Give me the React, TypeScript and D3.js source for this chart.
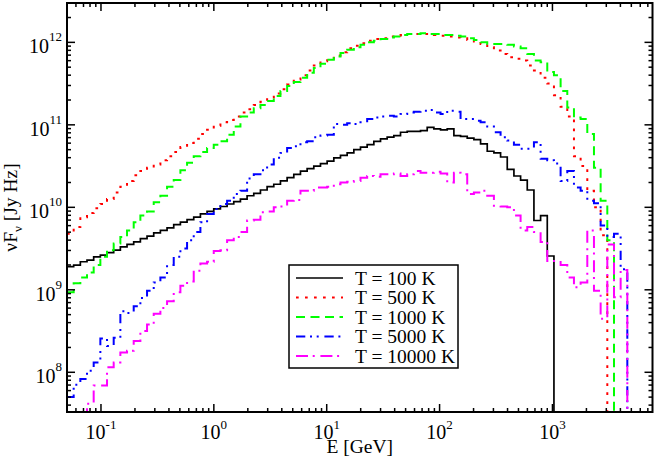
import * as React from 'react';
import * as d3 from 'd3';

const width = 654;
const height = 463;
const margin = { top: 3, right: 1.5, bottom: 51, left: 67 };

const xDomain: [number, number] = [0.05, 7700];
const yDomain: [number, number] = [3.3e7, 3e12];

// histogram bins: lower edge of first bin and bin width in log10(E)
const firstBinEdge = 0.05;
const binDex = 0.0591;

const xTickExps = [-1, 0, 1, 2, 3];
const yTickExps = [8, 9, 10, 11, 12];

const labels = ['T = 100 K', 'T = 500 K', 'T = 1000 K', 'T = 5000 K', 'T = 10000 K'];
const colours = ['#000000', '#ff0000', '#00ff00', '#0000ff', '#ff00ff'];
const dashes = ['', '2.7,6.3', '9,5.5', '9.3,4.7,2,4.7,2,5.7', '12,4.7,2,5.7'];

// log10(nuF_nu) per energy bin, 0 = empty bin
const t100 = [
	9.28, 9.30, 9.34, 9.36, 9.40, 9.42, 9.45, 9.48, 9.52, 9.55,
	9.58, 9.62, 9.65, 9.69, 9.72, 9.75, 9.79, 9.82, 9.85, 9.88,
	9.92, 9.95, 9.98, 10.01, 10.04, 10.07, 10.10, 10.14, 10.17, 10.21,
	10.25, 10.28, 10.32, 10.36, 10.40, 10.44, 10.47, 10.50, 10.53, 10.56,
	10.60, 10.63, 10.66, 10.70, 10.73, 10.76, 10.80, 10.83, 10.85, 10.87,
	10.91, 10.92, 10.92, 10.93, 10.97, 10.95, 10.94, 10.95, 10.87, 10.86,
	10.84, 10.82, 10.77, 10.68, 10.66, 10.61, 10.46, 10.38, 10.33, 10.21,
	9.84, 9.90, 9.41, 0, 0, 0, 0, 0, 0, 0,
	0, 0, 0, 0, 0, 0, 0, 0
];

const t500 = [
	9.68, 9.76, 9.88, 9.93, 9.99, 10.04, 10.10, 10.18, 10.25, 10.32,
	10.39, 10.44, 10.48, 10.52, 10.57, 10.62, 10.67, 10.73, 10.78, 10.83,
	10.89, 10.94, 10.99, 11.03, 11.06, 11.10, 11.15, 11.19, 11.24, 11.28,
	11.33, 11.38, 11.43, 11.49, 11.55, 11.60, 11.66, 11.72, 11.77, 11.80,
	11.84, 11.88, 11.93, 11.96, 11.99, 12.02, 12.04, 12.05, 12.07, 12.08,
	12.09, 12.10, 12.10, 12.10, 12.10, 12.09, 12.08, 12.07, 12.06, 12.05,
	12.03, 12.01, 11.98, 11.94, 11.90, 11.86, 11.82, 11.80, 11.78, 11.72,
	11.66, 11.57, 11.50, 11.36, 11.22, 11.10, 10.62, 10.50, 10.20, 10.00,
	9.66, 0, 0, 0, 0, 0, 0, 0
];

const t1000 = [
	8.97, 9.08, 9.15, 9.21, 9.30, 9.40, 9.48, 9.56, 9.64, 9.72,
	9.82, 9.90, 9.95, 10.06, 10.14, 10.25, 10.33, 10.45, 10.54, 10.62,
	10.67, 10.72, 10.76, 10.80, 10.88, 10.98, 11.10, 11.15, 11.20, 11.24,
	11.29, 11.35, 11.41, 11.47, 11.52, 11.57, 11.63, 11.69, 11.74, 11.79,
	11.83, 11.87, 11.91, 11.94, 11.97, 12.00, 12.02, 12.04, 12.06, 12.07,
	12.09, 12.10, 12.10, 12.11, 12.10, 12.10, 12.09, 12.09, 12.08, 12.07,
	12.05, 12.03, 12.00, 11.98, 11.98, 11.98, 11.97, 11.95, 11.93, 11.86,
	11.78, 11.76, 11.64, 11.60, 11.41, 11.21, 11.09, 11.07, 10.89, 10.48,
	10.08, 9.60, 0, 0, 0, 0, 0, 0
];

const t5000 = [
	7.70, 7.85, 7.92, 8.02, 8.12, 8.41, 8.32, 8.42, 8.74, 8.72,
	8.80, 8.90, 8.99, 9.09, 9.15, 9.30, 9.40, 9.50, 9.60, 9.70,
	9.82, 9.92, 9.98, 10.04, 10.08, 10.16, 10.20, 10.35, 10.40, 10.45,
	10.52, 10.60, 10.66, 10.72, 10.74, 10.79, 10.80, 10.85, 10.87, 10.88,
	11.01, 11.00, 11.02, 11.01, 11.03, 11.07, 11.09, 11.10, 11.11, 11.10,
	11.13, 11.15, 11.16, 11.17, 11.18, 11.15, 11.13, 11.17, 11.16, 11.07,
	11.07, 11.05, 11.03, 10.98, 10.91, 10.85, 10.81, 10.76, 10.71, 10.71,
	10.79, 10.59, 10.57, 10.53, 10.32, 10.44, 10.24, 10.20, 10.08, 10.05,
	9.78, 9.64, 9.68, 9.25, 0, 0, 0, 0
];

const t10000 = [
	0, 0, 0, 7.62, 7.84, 7.84, 8.06, 8.12, 8.24, 8.26,
	8.38, 8.50, 8.58, 8.71, 8.78, 8.86, 8.97, 9.05, 9.10, 9.23,
	9.32, 9.34, 9.47, 9.48, 9.60, 9.64, 9.70, 9.84, 9.85, 9.94,
	9.95, 10.00, 10.01, 10.08, 10.09, 10.20, 10.20, 10.24, 10.24, 10.25,
	10.28, 10.30, 10.31, 10.32, 10.36, 10.38, 10.37, 10.40, 10.40, 10.41,
	10.38, 10.40, 10.44, 10.42, 10.42, 10.43, 10.41, 10.30, 10.42, 10.40,
	10.16, 10.18, 10.20, 10.14, 10.02, 10.01, 10.00, 9.90, 9.72, 9.76,
	9.70, 9.58, 9.35, 9.35, 9.30, 9.15, 9.03, 9.09, 9.72, 8.99,
	8.65, 9.55, 8.91, 9.24, 0, 0, 0, 0
];

const series = [t100, t500, t1000, t5000, t10000];

const font = "'Liberation Serif', 'Times New Roman', serif";

const App = () => {
	const x = d3.scaleLog().domain(xDomain).range([margin.left, width - margin.right]);
	const y = d3.scaleLog().domain(yDomain).range([height - margin.bottom, margin.top]);
	const x0 = margin.left;
	const x1 = width - margin.right;
	const y0 = height - margin.bottom;
	const y1 = margin.top;

	const binEdge = (k: number) => firstBinEdge * Math.pow(10, k * binDex);

	const line = d3
		.line<[number, number]>()
		.x((d) => x(d[0]))
		.y((d) => y(d[1] > 0 ? Math.pow(10, d[1]) : 1e5))
		.curve(d3.curveStepAfter);

	const paths = series.map((vals) => {
		const pts: [number, number][] = vals.map((v, k) => [binEdge(k), v]);
		pts.push([binEdge(vals.length), vals[vals.length - 1]]);
		return line(pts) || '';
	});

	const isMajor = (v: number) => Math.abs(Math.log10(v) - Math.round(Math.log10(v))) < 1e-6;
	const xTicks = x.ticks();
	const yTicks = y.ticks();

	const legendX = 289;
	const legendY = 265;
	const rowH = 19.5;

	return (
		<svg width={width} height={height} style={{ position: 'absolute', left: 0, top: 0, background: '#fff' }}>
			<defs>
				<clipPath id="plot-area">
					<rect x={x0} y={y1} width={x1 - x0} height={y0 - y1} />
				</clipPath>
			</defs>

			<g clipPath="url(#plot-area)">
				{paths.map((d, i) => (
					<path
						key={i}
						d={d}
						fill="none"
						stroke={colours[i]}
						strokeWidth={i === 0 ? 1.7 : 2}
						strokeDasharray={dashes[i]}
					/>
				))}
			</g>

			{/* ticks on all four sides, pointing in */}
			<g stroke="#000" strokeWidth={1.5}>
				{xTicks.map((t, i) => {
					const len = isMajor(t) ? 8 : 4;
					return (
						<g key={'x' + i}>
							<line x1={x(t)} x2={x(t)} y1={y0} y2={y0 - len} />
							<line x1={x(t)} x2={x(t)} y1={y1} y2={y1 + len} />
						</g>
					);
				})}
				{yTicks.map((t, i) => {
					const len = isMajor(t) ? 8 : 4;
					return (
						<g key={'y' + i}>
							<line x1={x0} x2={x0 + len} y1={y(t)} y2={y(t)} />
							<line x1={x1} x2={x1 - len} y1={y(t)} y2={y(t)} />
						</g>
					);
				})}
			</g>

			<rect x={x0} y={y1} width={x1 - x0} height={y0 - y1} fill="none" stroke="#000" strokeWidth={2} />

			<g fontFamily={font} fontSize={20} fill="#000">
				{xTickExps.map((e) => (
					<text key={'xl' + e} x={x(Math.pow(10, e))} y={y0 + 27} textAnchor="middle">
						10
						<tspan dy={-10} fontSize={13}>
							{e}
						</tspan>
					</text>
				))}
				{yTickExps.map((e) => (
					<text key={'yl' + e} x={x0 - 5} y={y(Math.pow(10, e)) + 11} textAnchor="end">
						10
						<tspan dy={-12} fontSize={13}>
							{e}
						</tspan>
					</text>
				))}
			</g>

			<g fontFamily={font} fontSize={19.5} fill="#000">
				<text x={(x0 + x1) / 2} y={452.5} textAnchor="middle">
					E [GeV]
				</text>
				<text transform={`translate(16.5,${(y0 + y1) / 2}) rotate(-90)`} textAnchor="middle">
					νF
					<tspan dy={5} fontSize={13}>
						ν
					</tspan>
					<tspan dy={-5}> [Jy Hz]</tspan>
				</text>
			</g>

			<g>
				<rect x={legendX} y={legendY} width={169} height={103} fill="#fff" stroke="#000" strokeWidth={1.5} />
				{labels.map((name, i) => {
					const cy = legendY + 13 + i * rowH;
					return (
						<g key={name}>
							<line
								x1={legendX + 7}
								x2={legendX + 54}
								y1={cy}
								y2={cy}
								stroke={colours[i]}
								strokeWidth={i === 0 ? 1.7 : 2}
								strokeDasharray={dashes[i]}
							/>
							<text x={legendX + 66} y={cy + 6.5} fontFamily={font} fontSize={19.5}>
								{name}
							</text>
						</g>
					);
				})}
			</g>
		</svg>
	);
};

export default App;
